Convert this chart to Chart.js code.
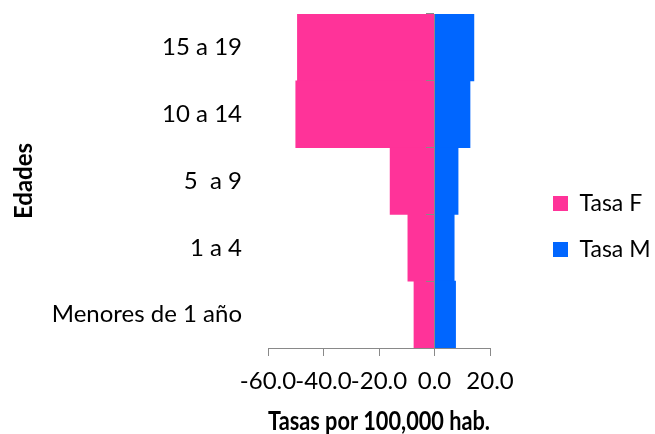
<!DOCTYPE html>
<html>
<head>
<meta charset="utf-8">
<script src="https://cdn.jsdelivr.net/npm/chart.js@4.4.1/dist/chart.umd.min.js"></script>
<style>
  html, body { margin: 0; padding: 0; background: #ffffff; }
  #wrap { width: 655px; height: 434px; position: relative; }
</style>
</head>
<body>
<div id="wrap"><canvas id="c"></canvas></div>
<script>
// ---- data ----
const categories = ['15 a 19', '10 a 14', '5  a 9', '1 a 4', 'Menores de 1 año'];
const tasaF = [-49.4, -50.0, -16.0, -9.6, -7.4];
const tasaM = [14.2, 12.8, 8.5, 7.1, 7.6];
const seriesNames = ['Tasa F', 'Tasa M'];
const xMin = -60, xMax = 20, xStep = 20;
const xTitle = 'Tasas por 100,000 hab.';
const yTitle = 'Edades';

const FONT = 'Lato';
const GRAY = '#898989';
Chart.defaults.font.family = FONT;
Chart.defaults.font.size = 24;
Chart.defaults.color = '#000000';

new Chart(document.getElementById('c'), {
  type: 'bar',
  data: {
    labels: categories,
    datasets: [
      { label: seriesNames[0], data: tasaF, backgroundColor: '#FF3399', borderWidth: 0,
        barPercentage: 1, categoryPercentage: 1, yAxisID: 'y' },
      { label: seriesNames[1], data: tasaM, backgroundColor: '#0066FF', borderWidth: 0,
        barPercentage: 1, categoryPercentage: 1, yAxisID: 'y' }
    ]
  },
  options: {
    indexAxis: 'y',
    responsive: true,
    maintainAspectRatio: false,
    animation: false,
    layout: { padding: { top: 14, left: 0, right: 0, bottom: 0 } },
    plugins: {
      tooltip: { enabled: false },
      legend: {
        position: 'right',
        align: 'center',
        maxWidth: 125,
        title: { display: true, text: '', padding: 0, font: { size: 5, lineHeight: 1 } },
        labels: { boxWidth: 15, boxHeight: 15, padding: 23, color: '#000',
                  font: { family: FONT, size: 23 } }
      }
    },
    scales: {
      x: {
        type: 'linear',
        stacked: true,
        min: xMin, max: xMax,
        ticks: { stepSize: xStep, padding: 11, maxRotation: 0, autoSkip: false,
                 callback: (v) => Number(v).toFixed(1), font: { size: 24 } },
        grid: { drawOnChartArea: false, drawTicks: true, tickLength: 8, tickColor: GRAY, lineWidth: 1 },
        border: { display: true, color: GRAY, width: 1 },
        title: { display: true, text: xTitle, align: 'start',
                 font: { size: 26, weight: 'bold' }, padding: { top: 0, bottom: -3.6 } },
        afterFit: (s) => { s.height = 86; }
      },
      y: {
        type: 'category',
        stacked: true,
        position: 'left',
        ticks: { padding: 26, font: { size: 24 } },
        grid: { display: false, drawTicks: false },
        border: { display: false },
        title: { display: true, text: yTitle, font: { size: 24, weight: 'bold' },
                 padding: { top: 10, bottom: 4 } },
        afterFit: (s) => { s.width = 268; s.paddingTop = 0; s.paddingBottom = 0; }
      },
      yZero: {
        type: 'category',
        axis: 'y',
        labels: categories,
        position: { x: 0 },
        offset: true,
        ticks: { display: false },
        grid: { offset: true, drawOnChartArea: false, drawTicks: true, tickLength: 8,
                tickColor: GRAY, lineWidth: 1, z: 1 },
        border: { display: true, color: GRAY, width: 1, z: 1 }
      },
      yPad: {
        type: 'category',
        axis: 'y',
        labels: categories,
        position: 'right',
        ticks: { display: false },
        grid: { display: false },
        border: { display: false },
        afterFit: (s) => { s.width = 40; }
      }
    }
  }
});
</script>
</body>
</html>
